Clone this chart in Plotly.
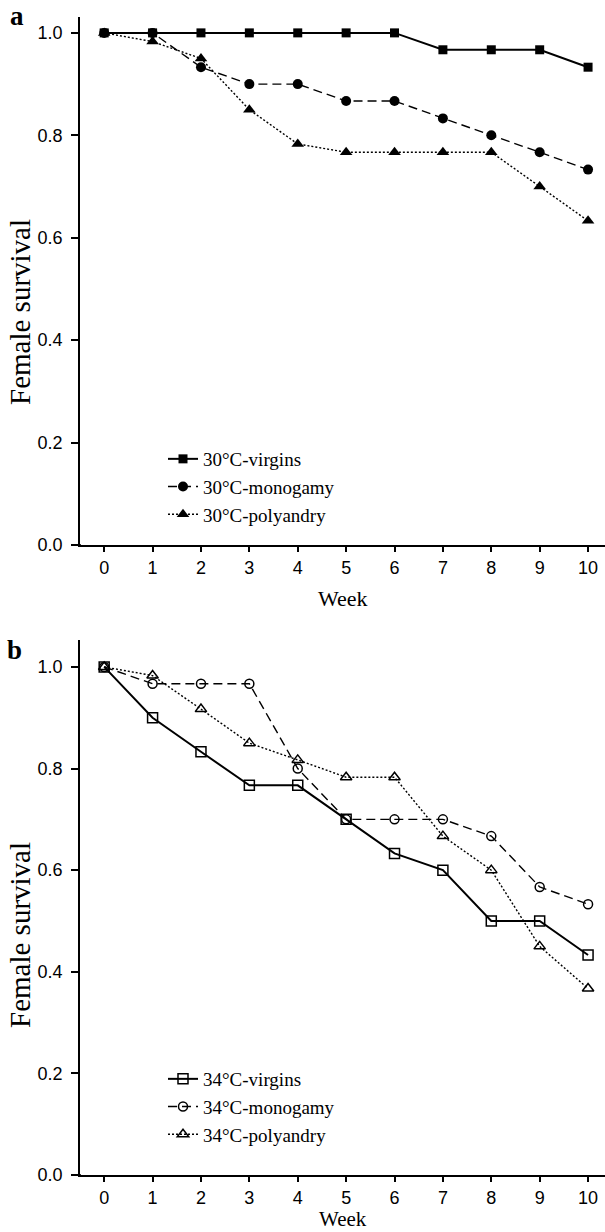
import plotly.graph_objects as go

weeks = [0, 1, 2, 3, 4, 5, 6, 7, 8, 9, 10]

a_virgins = [1.0, 1.0, 1.0, 1.0, 1.0, 1.0, 1.0, 0.967, 0.967, 0.967, 0.933]
a_monogamy = [1.0, 1.0, 0.933, 0.9, 0.9, 0.867, 0.867, 0.833, 0.8, 0.767, 0.733]
a_polyandry = [1.0, 0.983, 0.95, 0.85, 0.783, 0.767, 0.767, 0.767, 0.767, 0.7, 0.633]

b_virgins = [1.0, 0.9, 0.833, 0.767, 0.767, 0.7, 0.633, 0.6, 0.5, 0.5, 0.433]
b_monogamy = [1.0, 0.967, 0.967, 0.967, 0.8, 0.7, 0.7, 0.7, 0.667, 0.567, 0.533]
b_polyandry = [1.0, 0.983, 0.917, 0.85, 0.817, 0.783, 0.783, 0.667, 0.6, 0.45, 0.367]

names_a = ["30°C-virgins", "30°C-monogamy", "30°C-polyandry"]
names_b = ["34°C-virgins", "34°C-monogamy", "34°C-polyandry"]
y_ticks = [0.0, 0.2, 0.4, 0.6, 0.8, 1.0]
y_ticktext = ["0.0", "0.2", "0.4", "0.6", "0.8", "1.0"]

SANS = "Liberation Sans, Arial, sans-serif"
SERIF = "Liberation Serif, Times New Roman, serif"

W, H = 605, 1232
L = 80

fig = go.Figure()

styles = [
    dict(line=dict(color="black", width=2, dash="solid"), sym="square", size=9),
    dict(line=dict(color="black", width=1.4, dash="9px,5px"), sym="circle", size=10),
    dict(line=dict(color="black", width=1.4, dash="2px,2px"), sym="triangle-up", size=11),
]

for vals, name, st in zip([a_virgins, a_monogamy, a_polyandry], names_a, styles):
    fig.add_trace(go.Scatter(
        x=weeks, y=vals, name=name, mode="lines+markers",
        line=st["line"],
        marker=dict(symbol=st["sym"], size=st["size"], color="black",
                    line=dict(color="black", width=0)),
        xaxis="x", yaxis="y", legend="legend", cliponaxis=False,
    ))

styles_b = [
    dict(line=dict(color="black", width=2, dash="solid"), sym="square-open", size=10),
    dict(line=dict(color="black", width=1.4, dash="9px,5px"), sym="circle-open", size=9),
    dict(line=dict(color="black", width=1.4, dash="2px,2px"), sym="triangle-up-open", size=10),
]

for vals, name, st in zip([b_virgins, b_monogamy, b_polyandry], names_b, styles_b):
    fig.add_trace(go.Scatter(
        x=weeks, y=vals, name=name, mode="lines+markers",
        line=st["line"],
        marker=dict(symbol=st["sym"], size=st["size"], color="black",
                    line=dict(color="black", width=1.5)),
        xaxis="x2", yaxis="y2", legend="legend2", cliponaxis=False,
    ))


def py(pix):
    return (H - pix) / H


def px(pix):
    return (pix - L) / (W - L)


xcommon = dict(
    range=[-0.5, 10.35], tickmode="array", tickvals=weeks,
    ticktext=[str(w) for w in weeks],
    showline=True, linecolor="black", linewidth=1.6,
    ticks="outside", ticklen=5, tickwidth=1.5, tickcolor="black",
    showgrid=False, zeroline=False, ticklabelstandoff=1,
    tickfont=dict(family=SANS, size=18, color="black"),
)
ycommon = dict(
    tickmode="array", tickvals=y_ticks, ticktext=y_ticktext,
    showline=True, linecolor="black", linewidth=1.6,
    ticks="outside", ticklen=7, tickwidth=1.5, tickcolor="black",
    showgrid=False, zeroline=False, ticklabelstandoff=5,
    tickfont=dict(family=SANS, size=18, color="black"),
)

legfont = dict(family=SERIF, size=19, color="black")

fig.update_layout(
    width=W, height=H,
    margin=dict(l=L, r=0, t=0, b=0, autoexpand=False),
    paper_bgcolor="white", plot_bgcolor="white",
    xaxis=dict(domain=[0, 1], anchor="y", **xcommon),
    yaxis=dict(domain=[py(545), py(17)], range=[0, 1.031], anchor="x", **ycommon),
    xaxis2=dict(domain=[0, 1], anchor="y2", **xcommon),
    yaxis2=dict(domain=[py(1175), py(640)], range=[0, 1.053], anchor="x2", **ycommon),
    legend=dict(x=px(163), y=py(440), xanchor="left", yanchor="top",
                bgcolor="rgba(0,0,0,0)", borderwidth=0, itemwidth=30,
                font=legfont, tracegroupgap=0),
    legend2=dict(x=px(163), y=py(1060), xanchor="left", yanchor="top",
                 bgcolor="rgba(0,0,0,0)", borderwidth=0, itemwidth=30,
                 font=legfont, tracegroupgap=0),
    showlegend=True,
)

# axis line extension to the left of the y axis
for ypix in (545, 1175):
    fig.add_shape(type="line", xref="paper", yref="paper",
                  x0=px(73), x1=px(81), y0=py(ypix), y1=py(ypix),
                  line=dict(color="black", width=1.6))

ann = []
ann.append(dict(text="Week", x=0.5, y=py(598), xref="paper", yref="paper",
                showarrow=False, font=dict(family=SERIF, size=22, color="black"),
                xanchor="center", yanchor="middle"))
ann.append(dict(text="Week", x=0.5, y=py(1219), xref="paper", yref="paper",
                showarrow=False, font=dict(family=SERIF, size=21, color="black"),
                xanchor="center", yanchor="middle"))
ann.append(dict(text="Female survival", x=px(20), y=py(312), xref="paper", yref="paper",
                showarrow=False, textangle=-90,
                font=dict(family=SERIF, size=29, color="black"),
                xanchor="center", yanchor="middle"))
ann.append(dict(text="Female survival", x=px(20), y=py(935), xref="paper", yref="paper",
                showarrow=False, textangle=-90,
                font=dict(family=SERIF, size=29, color="black"),
                xanchor="center", yanchor="middle"))
ann.append(dict(text="<b>a</b>", x=px(17), y=py(16), xref="paper", yref="paper",
                showarrow=False, font=dict(family=SERIF, size=27, color="black"),
                xanchor="center", yanchor="middle"))
ann.append(dict(text="<b>b</b>", x=px(14), y=py(650), xref="paper", yref="paper",
                showarrow=False, font=dict(family=SERIF, size=27, color="black"),
                xanchor="center", yanchor="middle"))
fig.update_layout(annotations=ann)

fig.write_html("out.html", config={"displayModeBar": False},
               post_script="document.body.style.margin='0';")
